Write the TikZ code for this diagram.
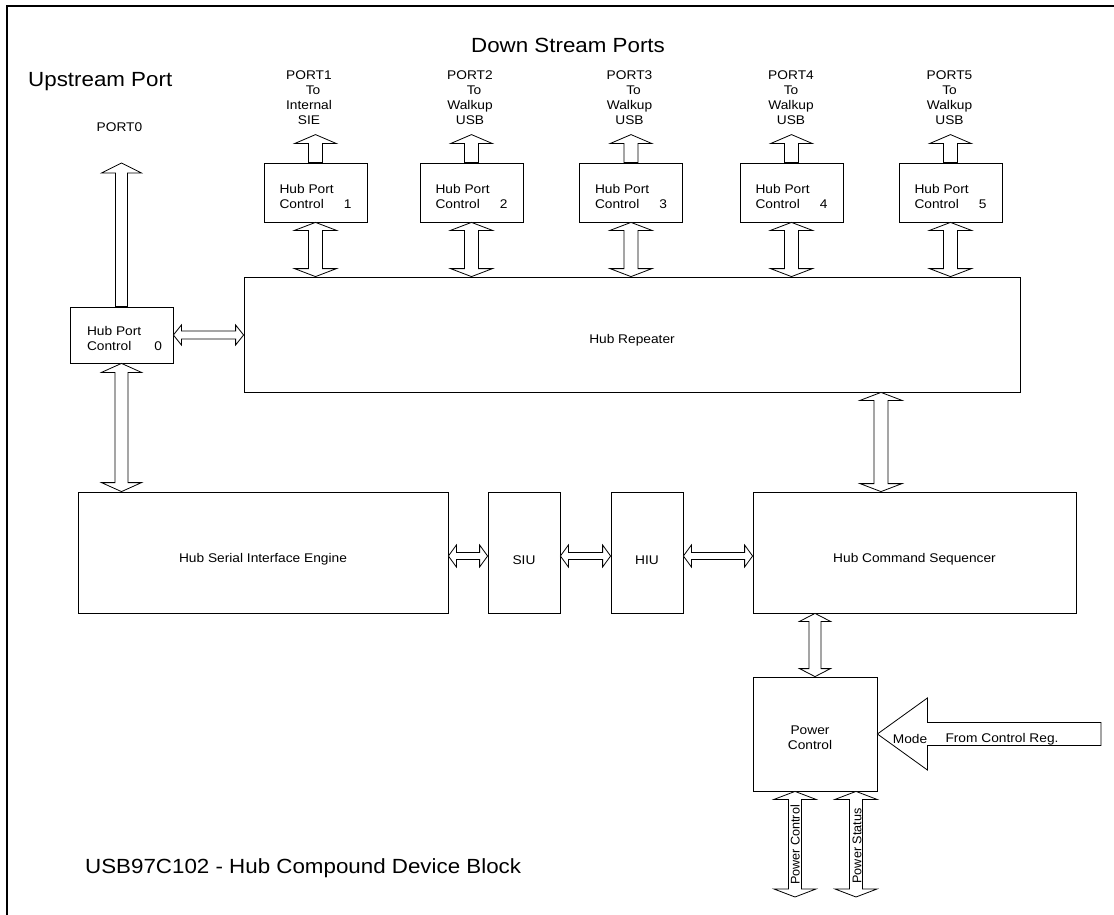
\documentclass[tikz,border=0pt]{standalone}
\usepackage{fontspec}
\setmainfont{Liberation Sans}[FakeStretch=1.09]
\newfontfamily\rotfont{Liberation Sans}
\usetikzlibrary{calc}

\tikzset{
  blk/.style={draw, line width=0.8pt, fill=white, inner sep=0pt},
  blockarr/.style={draw, line width=0.8pt, fill=white, line join=miter},
  sm/.style={font=\fontsize{12.6}{15}\selectfont, inner sep=0pt},
  big/.style={font=\fontsize{20.5}{24}\selectfont, inner sep=0pt},
  rot/.style={font=\rotfont\fontsize{12.6}{15}\selectfont, inner sep=0pt, rotate=90},
  hpcbox/.style={blk, minimum width=103pt, minimum height=59pt},
}

% single-headed vertical block arrow: tail #1, head #2
\newcommand\sglV[5]{%
  \draw[blockarr] let \p1=#1, \p2=#2, \p3=($#2!#5!#1$) in
    (\x1-#3,\y1) -- (\x1-#3,\y3) -- (\x1-#4,\y3) -- (\x1,\y2) --
    (\x1+#4,\y3) -- (\x1+#3,\y3) -- (\x1+#3,\y1) -- cycle;}
% double-headed vertical block arrow
\newcommand\dblV[5]{%
  \draw[blockarr] let \p1=#1, \p2=#2, \p3=($#1!#5!#2$), \p4=($#2!#5!#1$) in
    (\x1,\y1) -- (\x1+#4,\y3) -- (\x1+#3,\y3) -- (\x1+#3,\y4) --
    (\x1+#4,\y4) -- (\x1,\y2) -- (\x1-#4,\y4) -- (\x1-#3,\y4) --
    (\x1-#3,\y3) -- (\x1-#4,\y3) -- cycle;}
% double-headed horizontal block arrow
\newcommand\dblH[5]{%
  \draw[blockarr] let \p1=#1, \p2=#2, \p3=($#1!#5!#2$), \p4=($#2!#5!#1$) in
    (\x1,\y1) -- (\x3,\y1+#4) -- (\x3,\y1+#3) -- (\x4,\y1+#3) --
    (\x4,\y1+#4) -- (\x2,\y1) -- (\x4,\y1-#4) -- (\x4,\y1-#3) --
    (\x3,\y1-#3) -- (\x3,\y1-#4) -- cycle;}
% single-headed horizontal block arrow: tail #1, head #2
\newcommand\sglH[5]{%
  \draw[blockarr] let \p1=#1, \p2=#2, \p3=($#2!#5!#1$) in
    (\x1,\y2-#3) -- (\x3,\y2-#3) -- (\x3,\y2-#4) -- (\x2,\y2) --
    (\x3,\y2+#4) -- (\x3,\y2+#3) -- (\x1,\y2+#3) -- cycle;}

\begin{document}
\begin{tikzpicture}[x=1pt,y=-1pt]
\useasboundingbox (0,0) rectangle (1114,915);
\draw[line width=2pt] (7,915) -- (7,6) -- (1114,6);

% titles
\node[big] (dsp) at (568,45) {Down Stream Ports};
\node[big, anchor=west] (usp) at (28,82) {Upstream Port};
\node[big, anchor=west] (ttl) at (85,868) {USB97C102 - Hub Compound Device Block};

% boxes
\node[blk, minimum width=103pt, minimum height=56pt] (hpc0) at (121.5,335) {};
\node[hpcbox] (hpc1) at (315.5,192.5) {};
\node[hpcbox] (hpc2) at (471.5,192.5) {};
\node[hpcbox] (hpc3) at (631,192.5) {};
\node[hpcbox] (hpc4) at (791.5,192.5) {};
\node[hpcbox] (hpc5) at (950.5,192.5) {};
\node[blk, minimum width=776pt, minimum height=115pt] (hr) at (632,334.5) {};
\node[blk, minimum width=370pt, minimum height=121pt] (sie) at (263,552.5) {};
\node[blk, minimum width=72pt, minimum height=121pt] (siu) at (524,552.5) {};
\node[blk, minimum width=72pt, minimum height=121pt] (hiu) at (647,552.5) {};
\node[blk, minimum width=323pt, minimum height=121pt] (hcs) at (914.5,552.5) {};
\node[blk, minimum width=124pt, minimum height=114pt] (pc) at (815,734) {};

% box texts
\node[sm, align=left] (t0) at ($(hpc0.center)+(3,3)$) {Hub Port\\Control\hspace{23pt}0};
\foreach \i in {1,...,5}{
  \node[sm, align=left] (t\i) at ($(hpc\i.center)+(0,4)$) {Hub Port\\Control\hspace{20pt}\i};
}
\node[sm] (thr) at ($(hr.center)+(0,6)$) {Hub Repeater};
\node[sm] (tsie) at ($(sie.center)+(0,7)$) {Hub Serial Interface Engine};
\node[sm] (tsiu) at ($(siu.center)+(0,8)$) {SIU};
\node[sm] (thiu) at ($(hiu.center)+(0,8)$) {HIU};
\node[sm] (thcs) at ($(hcs.center)+(0,7)$) {Hub Command Sequencer};
\node[sm, align=center] (tpc) at ($(pc.center)+(-5,4)$) {Power\\Control};

% port labels
\node[sm] (l0) at (119.5,127) {PORT0};
\node[sm, align=center] (l1) at (309,97.5) {PORT1\\\hspace*{8pt}To\\Internal\\SIE};
\node[sm, align=center] (l2) at (470,97.5) {PORT2\\\hspace*{8pt}To\\Walkup\\USB};
\node[sm, align=center] (l3) at (629.5,98) {PORT3\\\hspace*{8pt}To\\Walkup\\USB};
\node[sm, align=center] (l4) at (791,97.5) {PORT4\\To\\Walkup\\USB};
\node[sm, align=center] (l5) at (949.5,97.5) {PORT5\\To\\Walkup\\USB};

% coordinates for free arrow ends
\coordinate (p0top) at (121.5,163);
\foreach \i in {1,...,5}{ \coordinate (up\i) at ($(hpc\i.north)+(0,-28)$); }
\coordinate (xr) at (881,0);
\coordinate (hy) at (0,556);
\coordinate (pcA) at (795,897);
\coordinate (psA) at (856,897);
\coordinate (modeT) at (1101,733.5);

% upstream port arrows
\sglV{(hpc0.north)}{(p0top)}{6pt}{20pt}{10pt}
\dblV{(hpc0.south)}{(hpc0.south |- sie.north)}{6.5pt}{20pt}{9pt}
\dblH{(hpc0.east)}{(hpc0.east -| hr.west)}{4pt}{10pt}{8pt}

% downstream port arrows
\foreach \i in {1,...,5}{
  \sglV{(hpc\i.north)}{(up\i)}{7pt}{21pt}{9pt}
  \dblV{(hpc\i.south)}{(hpc\i.south |- hr.north)}{7pt}{21pt}{8pt}
}

% internal arrows
\dblV{(hr.south -| xr)}{(hcs.north -| xr)}{7pt}{21pt}{8pt}
\dblH{(sie.east |- hy)}{(siu.west |- hy)}{3.5pt}{11pt}{8pt}
\dblH{(siu.east |- hy)}{(hiu.west |- hy)}{3.5pt}{11pt}{8pt}
\dblH{(hiu.east |- hy)}{(hcs.west |- hy)}{3.5pt}{11pt}{8pt}
\dblV{(hcs.south -| pc.north)}{(pc.north)}{6pt}{15.5pt}{8pt}

% power arrows
\dblV{(pc.south -| pcA)}{(pcA)}{6.5pt}{21pt}{8pt}
\dblV{(pc.south -| psA)}{(psA)}{6.5pt}{21pt}{8pt}
\node[rot] (tpcA) at (795,845) {Power Control};
\node[rot] (tpsA) at (857,846) {Power Status};

% mode arrow
\sglH{(modeT)}{(pc.east)}{11.5pt}{36pt}{50pt}
\node[sm] (tmode) at (910,739) {Mode};
\node[sm] (tfrom) at (1002,739) {From Control Reg.};
\end{tikzpicture}
\end{document}
